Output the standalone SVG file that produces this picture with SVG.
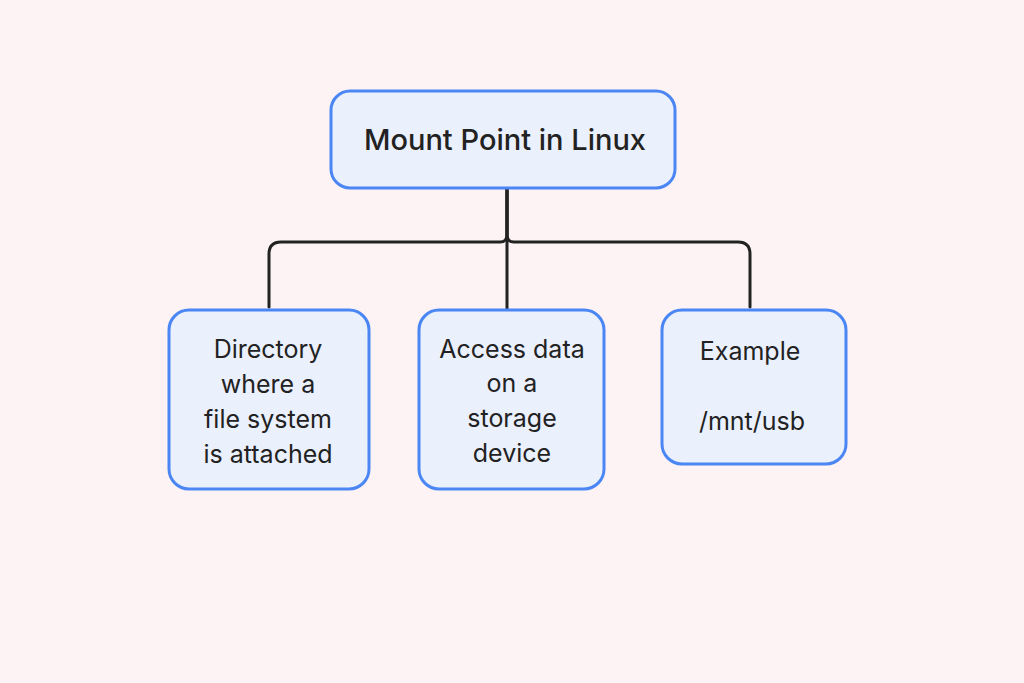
<svg xmlns="http://www.w3.org/2000/svg" width="1024" height="683" viewBox="0 0 1024 683">
<style>
.box{fill:#ebf0fd;stroke:#4a86f4;stroke-width:3}
.t{font-family:Inter,"Noto Sans",sans-serif;fill:#222;text-anchor:middle;font-size:25px}
.h{font-size:29px;font-weight:500}
.c{fill:none;stroke:#222;stroke-width:3;stroke-linecap:round;stroke-linejoin:round}
</style>
<rect width="1024" height="683" fill="#fdf3f4"/>
<g id="connectors">
<path class="c" d="M507,189 V309"/>
<path class="c" d="M507,189 V235 Q507,242 500,242 H281 Q269,242 269,254 V307"/>
<path class="c" d="M507,189 V235 Q507,242 514,242 H738 Q750,242 750,254 V307"/>
</g>
<g id="root">
<rect class="box" x="331" y="91" width="344" height="97" rx="19"/>
<text class="t h" x="505" y="150">Mount Point in Linux</text>
</g>
<g id="directory">
<rect class="box" x="169" y="310" width="200" height="179" rx="20"/>
<text class="t" x="268" y="358">Directory</text>
<text class="t" x="268" y="393">where a</text>
<text class="t" x="268" y="428">file system</text>
<text class="t" x="268" y="463">is attached</text>
</g>
<g id="access">
<rect class="box" x="419" y="310" width="185" height="179" rx="20"/>
<text class="t" x="512" y="358">Access data</text>
<text class="t" x="512" y="392">on a</text>
<text class="t" x="512" y="427">storage</text>
<text class="t" x="512" y="462">device</text>
</g>
<g id="example">
<rect class="box" x="662" y="310" width="184" height="154" rx="20"/>
<text class="t" x="750" y="360">Example</text>
<text class="t" x="752" y="430">/mnt/usb</text>
</g>
</svg>
